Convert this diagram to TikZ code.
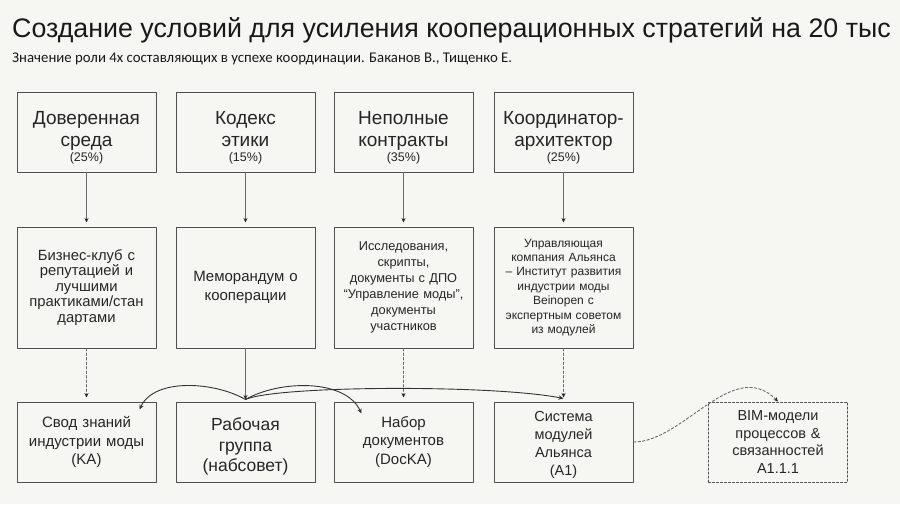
\documentclass[tikz,border=0pt]{standalone}
\usepackage{fontspec}
\setmainfont{Liberation Sans}
\newfontfamily\podpis{Carlito}
\usetikzlibrary{arrows.meta}
\definecolor{fon}{RGB}{246,247,243}
\definecolor{ramka}{RGB}{80,80,80}
\definecolor{liniya}{RGB}{105,105,105}
\newcommand{\fs}[2]{\fontsize{#1}{#2}\selectfont}
\newcommand{\podnyat}{\rule{0pt}{25pt}}
\tikzset{
	blok/.style={draw=ramka,line width=1pt,fill=fon,minimum width=139pt,text width=135pt,align=center,inner sep=0pt,text=black!85},
	verh/.style={blok,minimum height=80pt,font=\fs{19}{22}},
	sred/.style={blok,minimum height=121pt},
	niz/.style={blok,minimum height=80pt,font=\fs{15}{18.3}},
	strel/.style={liniya,line width=0.7pt,-{Stealth[length=4.5pt,width=4pt,color=black!85]},shorten >=4pt},
	punktir/.style={strel,dash pattern=on 2.5pt off 2pt},
	duga/.style={black!80,line width=0.9pt,-{Stealth[length=5pt,width=4.5pt]}}
}
\begin{document}
\begin{tikzpicture}[x=1pt,y=1pt,line join=round,line cap=round]
	\fill[fon](0,0)rectangle(900,-504);
	\useasboundingbox(0,0)rectangle(900,-504);
	%%%%%%%%% Заголовок
	\node[anchor=base west,inner sep=0pt,text=black!90,font=\fs{26.8}{30}](zag) at (12,-37){Создание условий для усиления кооперационных стратегий на 20 тыс};
	\node[anchor=base west,inner sep=0pt,text=black!90,font=\podpis\fs{14.8}{16}](podz) at (12,-62){Значение роли 4х составляющих в успехе координации. Баканов В., Тищенко Е.};
	%%%%%%%%% Верхний ряд
	\node[verh](dov) at (86.5,-132){\podnyat Доверенная\\среда\\[-7pt]{\fs{12.5}{14}(25\%)}};
	\node[verh](kod) at (245.5,-132){\podnyat Кодекс\\этики\\[-7pt]{\fs{12.5}{14}(15\%)}};
	\node[verh](nep) at (403.5,-132){\podnyat Неполные\\контракты\\[-7pt]{\fs{12.5}{14}(35\%)}};
	\node[verh](koo) at (563.5,-132){\podnyat Координатор-\\архитектор\\[-7pt]{\fs{12.5}{14}(25\%)}};
	%%%%%%%%% Средний ряд
	\node[sred,font=\fs{14.8}{15.6}](biz) at (86.5,-287.5){Бизнес-клуб с\\репутацией и\\лучшими\\практиками/стан\\дартами};
	\node[sred,font=\fs{15}{19}](mem) at (245.5,-287.5){Меморандум о\\кооперации};
	\node[sred,font=\fs{12.8}{16}](isl) at (403.5,-287.5){Исследования,\\скрипты,\\документы с ДПО\\“Управление моды”,\\документы\\участников};
	\node[sred,font=\fs{12}{14.4}](upr) at (563.5,-287.5){Управляющая\\компания Альянса\\– Институт развития\\индустрии моды\\Beinopen с\\экспертным советом\\из модулей};
	%%%%%%%%% Нижний ряд
	\node[niz](ka) at (86.5,-442){Свод знаний\\индустрии моды\\(KA)};
	\node[niz,font=\fs{17.5}{20.7}](rab) at (245.5,-442){\rule{0pt}{22pt}Рабочая\\группа\\(набсовет)};
	\node[niz](nab) at (403.5,-442){Набор\\документов\\(DocKA)};
	\node[niz,font=\fs{14.5}{17.7}](sys) at (563.5,-442){\rule{0pt}{16pt}Система\\модулей\\Альянса\\(A1)};
	\node[niz,font=\fs{14.5}{17.7},draw=ramka,dash pattern=on 2pt off 2pt](bim) at (778,-442){BIM-модели\\процессов \&\\связанностей\\A1.1.1};
	\coordinate(hub) at ([yshift=2]rab.north);
	%%%%%%%%% Стрелки
	\foreach \a/\b in {dov/biz,kod/mem,nep/isl,koo/upr}
		\draw[strel](\a.south)--(\b.north);
	\foreach \a/\b in {biz/ka,isl/nab,upr/sys}
		\draw[punktir](\a.south)--(\b.north);
	\draw[strel,shorten >=0pt](mem.south)--(hub);
	\draw[duga](hub)to[out=150,in=65,looseness=0.85]([shift={(-17,-8)}]ka.north east);
	\draw[duga](hub)to[out=30,in=115,looseness=0.85]([shift={(28,-12)}]nab.north west);
	\draw[duga](hub)..controls +(30,14) and +(-70,14)..([yshift=3]sys.north);
	\draw[punktir,line width=0.9pt,shorten >=0pt](sys.east)..controls +(50,0) and +(-45,45)..(bim.north);
\end{tikzpicture}
\end{document}
